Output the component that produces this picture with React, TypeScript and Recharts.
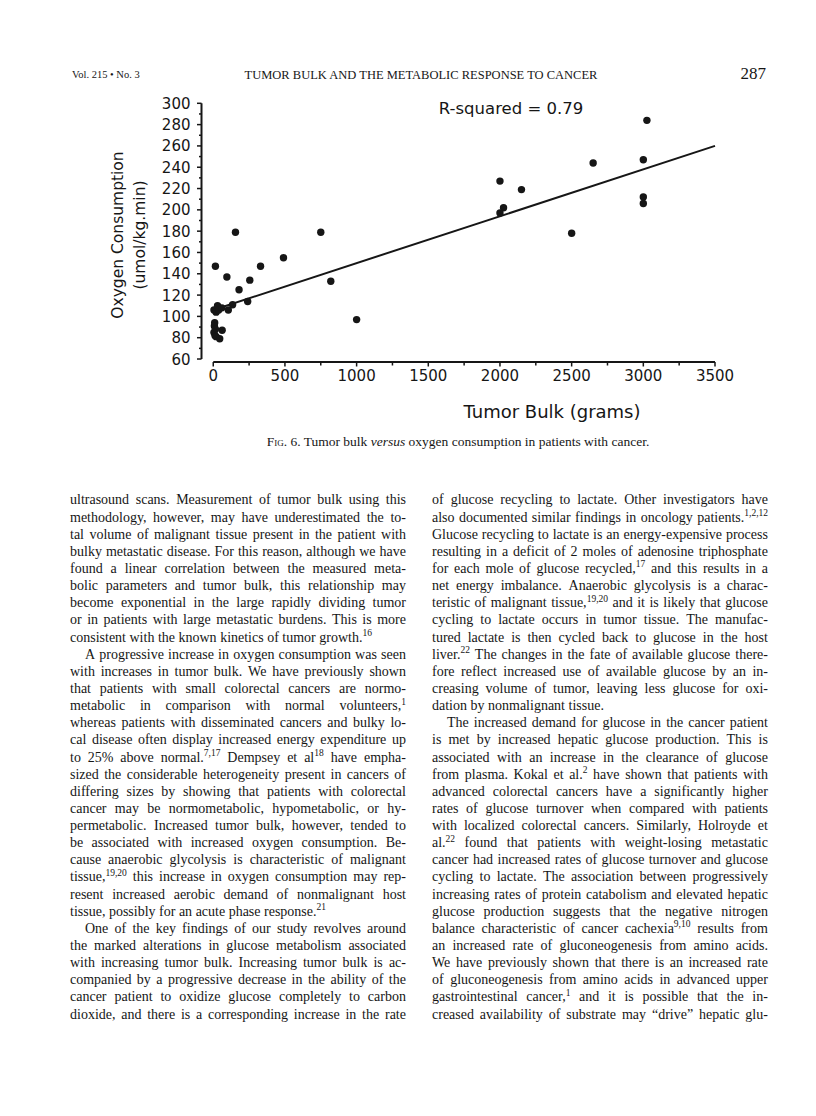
import React from 'react';
import { ScatterChart, Scatter, XAxis, YAxis, ReferenceLine } from 'recharts';

// tumor bulk (g) vs oxygen consumption (umol/kg.min)
const tumorBulk = [
  10, 8, 15, 5, 12, 20, 45, 62, 5, 20, 30, 38, 60, 15,
  95, 105, 135, 155, 180, 240, 255, 330, 490, 750, 820, 1000,
  2000, 2150, 2025, 2000, 2500, 2650, 3000, 3025, 3000, 3000,
];
const oxygenUse = [
  94, 91, 88, 85, 82, 81, 79, 87, 106, 104, 110, 106, 108, 147,
  137, 106, 111, 179, 125, 114, 134, 147, 155, 179, 133, 97,
  227, 219, 202, 197, 178, 244, 247, 284, 212, 206,
];
const fitX = [0, 3500];
const fitY = [106, 260];

const xTicks = [0, 250, 500, 750, 1000, 1250, 1500, 1750, 2000, 2250, 2500, 2750, 3000, 3250, 3500];
const yTicks = [60, 70, 80, 90, 100, 110, 120, 130, 140, 150, 160, 170, 180, 190, 200, 210, 220, 230, 240, 250, 260, 270, 280, 290, 300];

const points = tumorBulk.map((x, i) => ({ x, y: oxygenUse[i] }));

const leftLines = [
  'ultrasound scans. Measurement of tumor bulk using this',
  'methodology, however, may have underestimated the to-',
  'tal volume of malignant tissue present in the patient with',
  'bulky metastatic disease. For this reason, although we have',
  'found a linear correlation between the measured meta-',
  'bolic parameters and tumor bulk, this relationship may',
  'become exponential in the large rapidly dividing tumor',
  'or in patients with large metastatic burdens. This is more',
  'consistent with the known kinetics of tumor growth.^16',
  'A progressive increase in oxygen consumption was seen',
  'with increases in tumor bulk. We have previously shown',
  'that patients with small colorectal cancers are normo-',
  'metabolic in comparison with normal volunteers,^1',
  'whereas patients with disseminated cancers and bulky lo-',
  'cal disease often display increased energy expenditure up',
  'to 25% above normal.^7,17 Dempsey et al^18 have empha-',
  'sized the considerable heterogeneity present in cancers of',
  'differing sizes by showing that patients with colorectal',
  'cancer may be normometabolic, hypometabolic, or hy-',
  'permetabolic. Increased tumor bulk, however, tended to',
  'be associated with increased oxygen consumption. Be-',
  'cause anaerobic glycolysis is characteristic of malignant',
  'tissue,^19,20 this increase in oxygen consumption may rep-',
  'resent increased aerobic demand of nonmalignant host',
  'tissue, possibly for an acute phase response.^21',
  'One of the key findings of our study revolves around',
  'the marked alterations in glucose metabolism associated',
  'with increasing tumor bulk. Increasing tumor bulk is ac-',
  'companied by a progressive decrease in the ability of the',
  'cancer patient to oxidize glucose completely to carbon',
  'dioxide, and there is a corresponding increase in the rate',
];
const leftEnds = [8, 24];
const leftIndents = [9, 25];

const rightLines = [
  'of glucose recycling to lactate. Other investigators have',
  'also documented similar findings in oncology patients.^1,2,12',
  'Glucose recycling to lactate is an energy-expensive process',
  'resulting in a deficit of 2 moles of adenosine triphosphate',
  'for each mole of glucose recycled,^17 and this results in a',
  'net energy imbalance. Anaerobic glycolysis is a charac-',
  'teristic of malignant tissue,^19,20 and it is likely that glucose',
  'cycling to lactate occurs in tumor tissue. The manufac-',
  'tured lactate is then cycled back to glucose in the host',
  'liver.^22 The changes in the fate of available glucose there-',
  'fore reflect increased use of available glucose by an in-',
  'creasing volume of tumor, leaving less glucose for oxi-',
  'dation by nonmalignant tissue.',
  'The increased demand for glucose in the cancer patient',
  'is met by increased hepatic glucose production. This is',
  'associated with an increase in the clearance of glucose',
  'from plasma. Kokal et al.^2 have shown that patients with',
  'advanced colorectal cancers have a significantly higher',
  'rates of glucose turnover when compared with patients',
  'with localized colorectal cancers. Similarly, Holroyde et',
  'al.^22 found that patients with weight-losing metastatic',
  'cancer had increased rates of glucose turnover and glucose',
  'cycling to lactate. The association between progressively',
  'increasing rates of protein catabolism and elevated hepatic',
  'glucose production suggests that the negative nitrogen',
  'balance characteristic of cancer cachexia^9,10 results from',
  'an increased rate of gluconeogenesis from amino acids.',
  'We have previously shown that there is an increased rate',
  'of gluconeogenesis from amino acids in advanced upper',
  'gastrointestinal cancer,^1 and it is possible that the in-',
  'creased availability of substrate may \u201Cdrive\u201D hepatic glu-',
];
const rightEnds = [12];
const rightIndents = [13];

const INK = '#161616';
const SANS = '"DejaVu Sans", Verdana, sans-serif';
const SERIF = '"Liberation Serif", "Times New Roman", serif';
const FS = 14;
const SUP_FS = 9.5;
const LINE_H = 17.15;
const TEXT_TOP = 491.4;
const COL_W = 336;
const MIN_GAP = 3.4;

// measure words so over-long justified lines get squeezed a little
let ctx: CanvasRenderingContext2D | null = null;
const measure = (s: string, size: number) => {
  if (!ctx) ctx = document.createElement('canvas').getContext('2d');
  if (!ctx) return s.length * size * 0.45;
  ctx.font = `${size}px "Liberation Serif"`;
  return ctx.measureText(s).width;
};
const wordWidth = (w: string) => {
  const k = w.indexOf('^');
  return k < 0 ? measure(w, FS) : measure(w.slice(0, k), FS) + measure(w.slice(k + 1), SUP_FS);
};

const YTick = (props: any) => {
  const { x, y, payload } = props;
  const major = payload.value % 20 === 0;
  return (
    <g>
      <line x1={x} x2={x - (major ? 4.5 : 2.5)} y1={y} y2={y} stroke={INK} strokeWidth={1.5} />
      {major && (
        <text x={x - 11} y={y + 5.5} textAnchor="end" fontSize={15} fontFamily={SANS} fill={INK}>
          {payload.value}
        </text>
      )}
    </g>
  );
};

const XTick = (props: any) => {
  const { x, y, payload } = props;
  const major = payload.value % 500 === 0;
  return (
    <g>
      <line x1={x} x2={x} y1={y} y2={y + (major ? 4.5 : 3.5)} stroke={INK} strokeWidth={1.5} />
      {major && (
        <text x={x} y={y + 19} textAnchor="middle" fontSize={15} fontFamily={SANS} fill={INK}>
          {payload.value}
        </text>
      )}
    </g>
  );
};

const Dot = (props: any) => <circle cx={props.cx} cy={props.cy} r={3.7} fill={INK} />;

const renderWord = (w: string, i: number) => {
  const k = w.indexOf('^');
  if (k < 0) return <span key={i}>{w}</span>;
  return (
    <span key={i}>
      {w.slice(0, k)}
      <span style={{ fontSize: SUP_FS, position: 'relative', top: -5.5 }}>{w.slice(k + 1)}</span>
    </span>
  );
};

const Column = ({ lines, ends, indents, left }: { lines: string[]; ends: number[]; indents: number[]; left: number }) => (
  <div style={{ position: 'absolute', left, top: TEXT_TOP, width: COL_W, fontSize: FS }}>
    {lines.map((line, i) => {
      const words = line.split(' ');
      const last = ends.includes(i);
      const indent = indents.includes(i) ? 15 : 0;
      let ls = 0;
      if (!last) {
        const total = words.reduce((s, w) => s + wordWidth(w), 0);
        const chars = words.reduce((s, w) => s + w.replace('^', '').length, 0);
        const gaps = words.length - 1;
        const room = COL_W - indent - gaps * MIN_GAP - total;
        if (room < 0) ls = room / chars;
      }
      return (
        <div
          key={i}
          style={{
            height: LINE_H,
            lineHeight: `${LINE_H}px`,
            whiteSpace: 'nowrap',
            paddingLeft: indent,
            letterSpacing: ls,
            display: last ? 'block' : 'flex',
            justifyContent: 'space-between',
          }}
        >
          {last
            ? words.map((w, j) => <React.Fragment key={j}>{j > 0 ? ' ' : ''}{renderWord(w, j)}</React.Fragment>)
            : words.map(renderWord)}
        </div>
      );
    })}
  </div>
);

export default function App() {
  return (
    <div style={{ position: 'absolute', left: 0, top: 0, width: 816, height: 1116, background: '#fff', color: INK, fontFamily: SERIF, overflow: 'hidden' }}>
      {/* running head */}
      <div style={{ position: 'absolute', left: 72, top: 69, fontSize: 10.5 }}>Vol. 215 &bull; No. 3</div>
      <div style={{ position: 'absolute', left: 121, width: 600, top: 68, fontSize: 12.5, textAlign: 'center' }}>
        TUMOR BULK AND THE METABOLIC RESPONSE TO CANCER
      </div>
      <div style={{ position: 'absolute', right: 816 - 766, top: 64, fontSize: 17 }}>287</div>

      <div style={{ position: 'absolute', left: 0, top: 0 }}>
        <ScatterChart width={816} height={480} margin={{ top: 103.3, right: 101, bottom: 88, left: 141.5 }}>
          <XAxis
            type="number"
            dataKey="x"
            domain={[-82, 3500]}
            ticks={xTicks}
            interval={0}
            allowDataOverflow
            axisLine={false}
            tickLine={false}
            tickSize={0}
            tickMargin={0}
            height={30}
            tick={<XTick />}
          />
          <YAxis
            type="number"
            dataKey="y"
            domain={[57.2, 300]}
            ticks={yTicks}
            interval={0}
            allowDataOverflow
            axisLine={false}
            tickLine={false}
            tickSize={0}
            tickMargin={0}
            width={60}
            tick={<YTick />}
          />
          <ReferenceLine segment={[{ x: 0, y: 57.2 }, { x: 3500, y: 57.2 }]} stroke={INK} strokeWidth={2} ifOverflow="visible" />
          <ReferenceLine segment={[{ x: -82, y: 60 }, { x: -82, y: 300 }]} stroke={INK} strokeWidth={2} ifOverflow="visible" />
          <ReferenceLine
            segment={[{ x: fitX[0], y: fitY[0] }, { x: fitX[1], y: fitY[1] }]}
            stroke={INK}
            strokeWidth={2}
            ifOverflow="visible"
          />
          <Scatter data={points} shape={<Dot />} isAnimationActive={false} />
        </ScatterChart>
      </div>

      {/* annotations and axis titles */}
      <div style={{ position: 'absolute', left: 411, width: 200, top: 99, fontSize: 16.5, fontFamily: SANS, textAlign: 'center' }}>
        R-squared = 0.79
      </div>
      <div style={{ position: 'absolute', left: 29, top: 213, width: 200, textAlign: 'center', fontSize: 15.5, fontFamily: SANS, transform: 'rotate(-90deg)', lineHeight: '22px' }}>
        Oxygen Consumption
        <br />
        (umol/kg.min)
      </div>
      <div style={{ position: 'absolute', left: 452, width: 200, top: 401, fontSize: 18, fontFamily: SANS, textAlign: 'center' }}>
        Tumor Bulk (grams)
      </div>

      {/* caption */}
      <div style={{ position: 'absolute', left: 158, width: 600, top: 434, fontSize: 13.5, textAlign: 'center' }}>
        <span style={{ fontVariant: 'small-caps' }}>Fig.</span> 6. Tumor bulk <i>versus</i> oxygen consumption in patients with cancer.
      </div>

      <Column lines={leftLines} ends={leftEnds} indents={leftIndents} left={70} />
      <Column lines={rightLines} ends={rightEnds} indents={rightIndents} left={432} />
    </div>
  );
}
